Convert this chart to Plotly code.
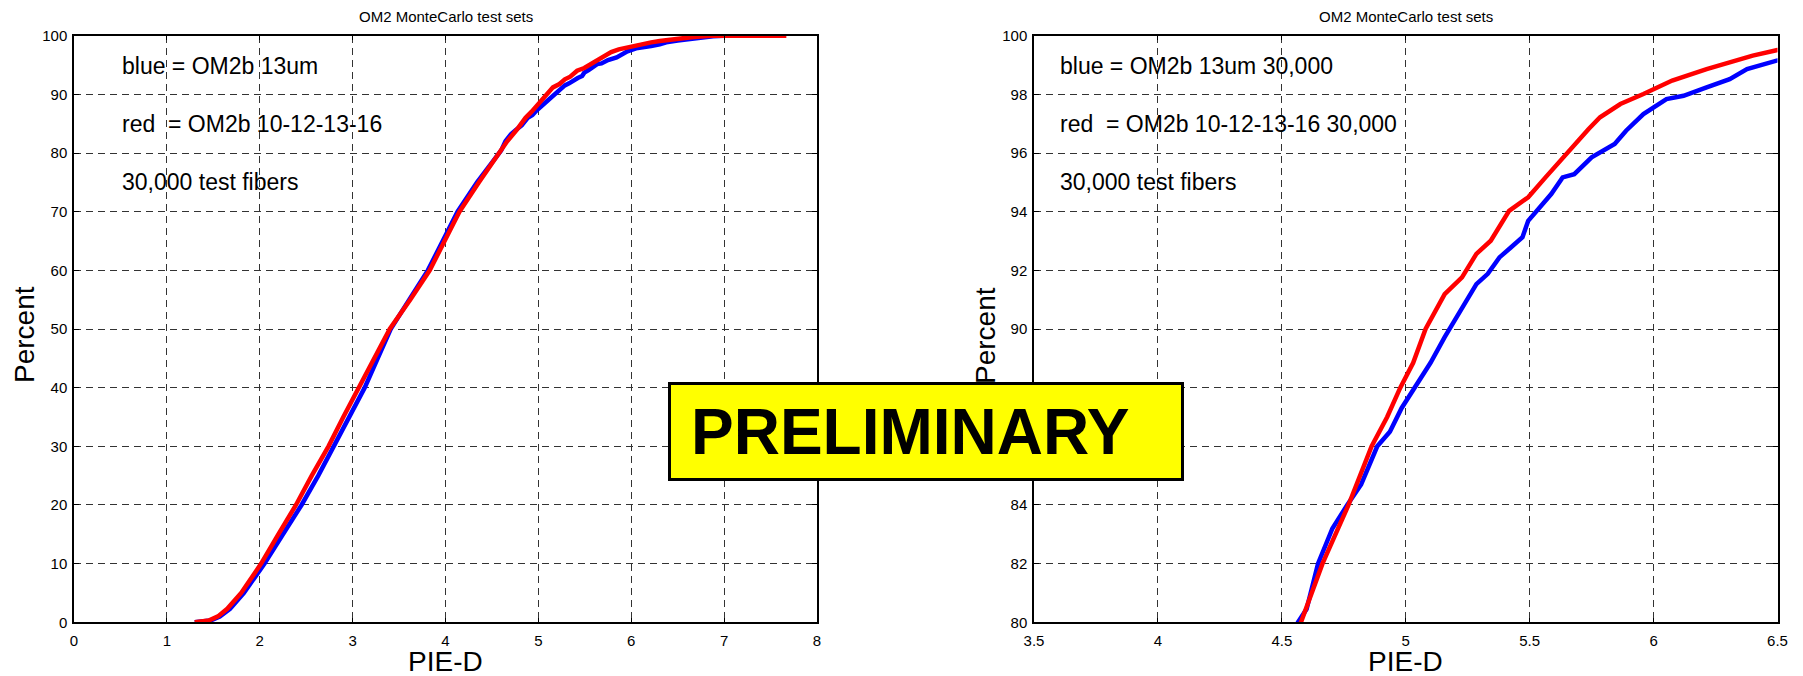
import plotly.graph_objects as go

# ---------------- data ----------------
red_x = [1.30, 1.45, 1.55, 1.65, 1.80, 2.015, 2.20, 2.39, 2.56, 2.74, 2.90, 3.07, 3.23, 3.40,
         3.62, 3.83, 3.99, 4.15, 4.36, 4.576, 4.664, 4.769, 4.862, 4.925, 4.978, 5.03, 5.080,
         5.157, 5.227, 5.285, 5.343, 5.417, 5.494, 5.564, 5.657, 5.738, 5.784, 5.866, 5.959,
         6.075, 6.214, 6.307, 6.400, 6.500, 6.65, 6.78, 6.87, 7.67]
red_p = [0, 0.3, 1, 2.3, 5, 10, 15, 20, 25, 30, 35, 40, 45, 50,
         55, 60, 65, 70, 75, 80, 82, 84, 86, 87, 88, 88.85, 90,
         91.19, 91.76, 92.56, 93.01, 94.03, 94.49, 95.17, 96.08, 96.82, 97.22, 97.67, 98.01,
         98.47, 98.86, 99.09, 99.32, 99.51, 99.75, 99.92, 100, 100]

blue_x = [1.30, 1.47, 1.57, 1.68, 1.83, 2.05, 2.25, 2.45, 2.63, 2.80, 2.97, 3.13, 3.27, 3.41,
          3.61, 3.81, 3.97, 4.13, 4.34, 4.565, 4.60, 4.646, 4.704, 4.764, 4.82, 4.885, 4.936,
          4.983, 5.036, 5.10, 5.157, 5.227, 5.285, 5.331, 5.378, 5.424, 5.471, 5.494, 5.540,
          5.587, 5.633, 5.680, 5.750, 5.843, 5.889, 5.959, 6.052, 6.121, 6.214, 6.307, 6.377,
          6.500, 6.62, 6.75, 6.88, 7.0, 7.6]
blue_p = [0, 0.3, 1, 2.3, 5, 10, 15, 20, 25, 30, 35, 40, 45, 50,
          55, 60, 65, 70, 75, 80, 80.45, 82, 83.2, 84, 84.7, 86, 86.5,
          87.3, 88, 88.85, 89.72, 90.74, 91.53, 91.88, 92.44, 92.78, 93.13, 93.69, 94.15,
          94.60, 95.17, 95.28, 95.85, 96.31, 96.76, 97.33, 97.84, 97.95, 98.24, 98.52, 98.86,
          99.17, 99.45, 99.7, 99.9, 100, 100]

left_xticks = [0, 1, 2, 3, 4, 5, 6, 7, 8]
left_yticks = [0, 10, 20, 30, 40, 50, 60, 70, 80, 90, 100]
right_xticks = [3.5, 4, 4.5, 5, 5.5, 6, 6.5]
right_xticklabels = ["3.5", "4", "4.5", "5", "5.5", "6", "6.5"]
right_yticks = [80, 82, 84, 86, 88, 90, 92, 94, 96, 98, 100]

title_text = "OM2 MonteCarlo test sets"
left_notes = ["blue = OM2b 13um", "red\u00a0 = OM2b 10-12-13-16", "30,000 test fibers"]
right_notes = ["blue = OM2b 13um 30,000", "red\u00a0 = OM2b 10-12-13-16 30,000", "30,000 test fibers"]

# ---------------- layout geometry ----------------
W, H = 1803, 676
FONT = "Liberation Sans, Arial, Helvetica, sans-serif"

def px(x):
    return x / W

def py(y):
    return 1 - y / H

L_X0, L_X1 = 74, 817
R_X0, R_X1 = 1034, 1777.5
Y_TOP, Y_BOT = 35.7, 622.3

fig = go.Figure()

for xa, ya in (("x", "y"), ("x2", "y2")):
    fig.add_trace(go.Scatter(x=blue_x, y=blue_p, mode="lines", xaxis=xa, yaxis=ya,
                             line=dict(color="#0000ff", width=4.5), showlegend=False))
    fig.add_trace(go.Scatter(x=red_x, y=red_p, mode="lines", xaxis=xa, yaxis=ya,
                             line=dict(color="#ff0000", width=4.5), showlegend=False))

axis_common = dict(
    showline=True, linecolor="black", linewidth=1.5, mirror="ticks",
    ticks="inside", ticklen=5, tickcolor="black", tickwidth=1,
    showgrid=True, gridcolor="#333333", gridwidth=1, griddash="7px,5px",
    zeroline=False, tickfont=dict(family=FONT, size=15, color="black"),
    fixedrange=True, automargin=False,
)

fig.update_layout(
    width=W, height=H,
    margin=dict(l=0, r=0, t=0, b=0, autoexpand=False),
    paper_bgcolor="white", plot_bgcolor="white",
    font=dict(family=FONT, color="black"),
    xaxis=dict(domain=[px(L_X0), px(L_X1)], range=[0, 8], tickvals=left_xticks,
               anchor="y", ticklabelstandoff=4, **axis_common),
    yaxis=dict(domain=[py(Y_BOT), py(Y_TOP)], range=[0, 100], tickvals=left_yticks,
               anchor="x", ticklabelstandoff=2, **axis_common),
    xaxis2=dict(domain=[px(R_X0), px(R_X1)], range=[3.5, 6.5], tickvals=right_xticks,
                ticktext=right_xticklabels, anchor="y2", ticklabelstandoff=4, **axis_common),
    yaxis2=dict(domain=[py(Y_BOT), py(Y_TOP)], range=[80, 100], tickvals=right_yticks,
                anchor="x2", ticklabelstandoff=2, **axis_common),
)

ann = []
# titles
for cx in ((L_X0 + L_X1) / 2, (R_X0 + R_X1) / 2):
    ann.append(dict(text=title_text, x=px(cx), y=py(17), xref="paper", yref="paper",
                    xanchor="center", yanchor="middle", showarrow=False,
                    font=dict(family=FONT, size=15, color="black")))
    ann.append(dict(text="PIE-D", x=px(cx), y=py(661), xref="paper", yref="paper",
                    xanchor="center", yanchor="middle", showarrow=False,
                    font=dict(family=FONT, size=28, color="black")))
# notes
line_y = [65.5, 124.5, 182.5]
for notes, x0 in ((left_notes, 120), (right_notes, 1058)):
    for t, yy in zip(notes, line_y):
        ann.append(dict(text=t, x=px(x0), y=py(yy), xref="paper", yref="paper",
                        xanchor="left", yanchor="middle", showarrow=False,
                        font=dict(family=FONT, size=23, color="black")))
# y axis titles
for cx in (24, 985):
    ann.append(dict(text="Percent", x=px(cx), y=py(335), xref="paper", yref="paper",
                    xanchor="center", yanchor="middle", showarrow=False, textangle=-90,
                    font=dict(family=FONT, size=28, color="black")))
# PRELIMINARY box (drawn after the labels so it covers them)
BOX_L, BOX_R, BOX_T, BOX_B = 668, 1184, 382, 481
ann.append(dict(text=" ", x=px((BOX_L + BOX_R) / 2), y=py((BOX_T + BOX_B) / 2),
                xref="paper", yref="paper", xanchor="center", yanchor="middle",
                showarrow=False, width=BOX_R - BOX_L - 6, height=BOX_B - BOX_T - 6,
                bgcolor="#ffff00", bordercolor="black", borderwidth=3, borderpad=0))
ann.append(dict(text="<b>PRELIMINARY</b>", x=px(910), y=py(432), xref="paper", yref="paper",
                xanchor="center", yanchor="middle", showarrow=False,
                font=dict(family=FONT, size=64, color="black")))
fig.update_layout(annotations=ann)

fig.write_html("out.html", config={"displayModeBar": False},
               post_script="document.body.style.margin='0';document.body.style.overflow='hidden';")
